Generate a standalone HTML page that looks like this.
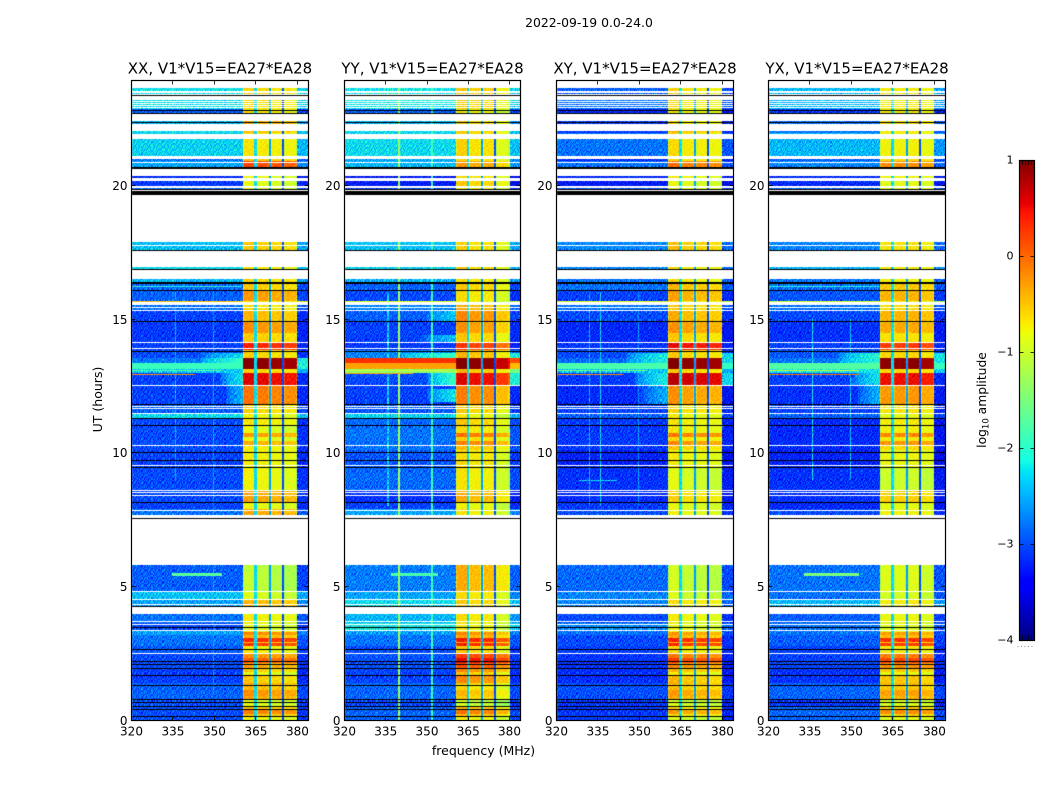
<!DOCTYPE html>
<html lang="en">
<head>
<meta charset="utf-8">
<title>2022-09-19 0.0-24.0 amplitude spectrogram</title>
<style>
  html, body { margin: 0; padding: 0; background: #fff; }
  #figure { position: relative; width: 1050px; height: 800px; overflow: hidden; background: #fff; }
  #figure canvas { position: absolute; display: block; }
  #overlay { position: absolute; left: 0; top: 0; }
  text { font-family: "DejaVu Sans", "Liberation Sans", sans-serif; fill: #000; }
</style>
</head>
<body>
<div id="figure">
  <svg id="overlay" width="1050" height="800" viewBox="0 0 1050 800">
    <text x="589" y="27" font-size="12.4" text-anchor="middle">2022-09-19 0.0-24.0</text>
    <text x="483.5" y="755" font-size="12.5" text-anchor="middle">frequency (MHz)</text>
    <text transform="translate(102,399.5) rotate(-90)" font-size="12.5" text-anchor="middle">UT (hours)</text>
    <text transform="translate(986,400) rotate(-90)" font-size="12.3" text-anchor="middle">log<tspan font-size="8.5" dy="2.5">10</tspan><tspan dy="-2.5"> amplitude</tspan></text>
  </svg>
</div>
<script>
// ---- Chart data (UT hours, MHz, log10 amplitude) ----
const panelTitles = ["XX, V1*V15=EA27*EA28", "YY, V1*V15=EA27*EA28", "XY, V1*V15=EA27*EA28", "YX, V1*V15=EA27*EA28"];
const panelIds = ["xx", "yy", "xy", "yx"];
const freqTicks = [320, 335, 350, 365, 380];
const timeTicks = [0, 5, 10, 15, 20];
const colorTicks = [1, 0, -1, -2, -3, -4];
const colorTickLabels = ["1", "0", "\u22121", "\u22122", "\u22123", "\u22124"];

// Start hour of each observing segment
const segmentStarts = [0,.52,.82,1.39,1.94,2.51,2.79,3.18,3.34,3.67,4.25,4.57,4.85,7.58,7.88,8.15,8.62,9.44,10.09,11.03,11.29,11.46,11.81,12.52,13.01,13.16,13.35,13.54,13.83,14.14,14.95,15.32,15.66,15.70,16.10,16.30,16.85,17.56,19.84,19.97,20.27,20.68,20.88,21.12,21.94,22.31,22.70,22.83,23.37];

// Level outside the 360-380 MHz band, per segment
const xxOff = [-3.0,-3.0,-2.9,-3.08,-3.02,-2.95,-2.82,-2.58,-3.02,-2.82,-2.58,-2.43,-2.92,-2.82,-3.07,-3.02,-3.02,-3.07,-3.02,-3.02,-2.28,-2.92,-3.07,-3.07,-2.4,-1.9,-2.8,-3.02,-3.07,-3.12,-3.07,-2.82,-.5,-2.92,-2.87,-2.48,-2.28,-2.43,-2.82,-3.12,-3.22,-2.58,-2.82,-2.33,-2.28,-2.48,-2.92,-2.23,-2.23];
const yyOff = [-2.9,-3.05,-2.88,-3.05,-2.98,-3.0,-2.82,-2.58,-2.18,-2.48,-2.28,-2.58,-2.77,-2.58,-3.07,-3.17,-2.87,-2.97,-2.82,-2.87,-2.33,-2.97,-3.07,-3.02,-1.4,-.3,.3,-2.72,-3.12,-3.07,-2.92,-2.72,-.9,-3.02,-2.92,-2.48,-2.33,-2.43,-3.12,-3.32,-3.32,-2.48,-2.58,-2.28,-2.28,-2.48,-2.92,-2.18,-2.18];
const xyOff = [-3.12,-3.15,-3.0,-3.18,-3.15,-3.08,-3.02,-2.82,-2.72,-3.02,-2.72,-2.72,-2.87,-3.02,-3.12,-3.22,-3.17,-3.27,-3.12,-3.12,-2.92,-3.07,-3.22,-3.12,-2.4,-1.8,-2.85,-3.02,-3.12,-3.22,-3.02,-2.82,-.9,-3.07,-2.82,-2.82,-2.72,-2.72,-3.02,-3.32,-3.22,-2.82,-3.22,-2.82,-3.12,-3.12,-3.22,-2.82,-2.92];
const yxOff = [-2.88,-3.12,-2.9,-3.15,-3.05,-3.08,-2.92,-2.82,-2.82,-2.92,-2.48,-2.82,-2.82,-3.02,-3.22,-3.17,-3.17,-3.27,-3.22,-3.22,-2.92,-3.07,-3.17,-3.07,-2.2,-1.75,-2.8,-2.97,-3.07,-3.17,-3.02,-2.82,-1,-2.97,-2.82,-2.82,-2.48,-2.72,-2.92,-3.22,-3.22,-2.72,-2.92,-2.48,-2.82,-2.82,-3.12,-2.48,-2.48];

// Level inside the 360-380 MHz band, per segment
const xxIn = [-.5,-.9,-.35,-.55,-.15,-.75,-.05,-.7,-.9,-.75,-.45,-.95,-1.1,-.35,-.85,-.35,-.8,-.75,-.75,-.7,-.8,-.6,-.1,.55,-.6,.95,.95,-.6,.35,-.35,-.45,-.65,-.7,-.3,-.55,-.6,-.7,-.55,-.9,-.9,-.85,.15,-.5,-.7,-.5,-.4,-.7,-.65,-.6];
const yyIn = [-.5,-1.05,-.6,-.25,.25,-.6,0,-.75,-.8,-.7,-.6,-.7,-.45,-.75,-.85,-.45,-.75,-.7,-.55,-.6,-.8,-.6,-.2,.5,-.5,.95,.95,-.5,.2,-.4,-.25,-.45,-.9,-.7,-.6,-.7,-.6,-.65,-.8,-.6,-.7,-.35,-.7,-.65,-.6,-.6,-.8,-.6,-.55];
const xyIn = [-.7,-1,-.45,-.5,-.05,-.7,-.05,-.8,-.9,-.8,-.7,-1,-1.05,-.85,-.9,-.65,-.95,-.8,-.6,-.75,-.8,-.65,-.3,.65,-.6,.95,.95,-.6,.45,-.4,-.45,-.6,-.8,-.4,-.5,-.7,-.7,-.55,-.9,-.9,-.8,-.1,-.7,-.7,-.5,-.7,-.8,-.7,-.65];
const yxIn = [-.55,-.9,-.4,-.5,0,-.7,-.05,-.8,-.9,-.8,-.7,-.95,-.9,-.75,-.85,-.55,-1.0,-.8,-.6,-.7,-.85,-.65,-.25,.5,-.6,.95,.95,-.6,.25,-.45,-.4,-.6,-.8,-.4,-.5,-.75,-.7,-.65,-.85,-.85,-.8,-.2,-.6,-.75,-.7,-.6,-.7,-.7,-.7];

// In-band brightness changes shared by all polarisations: [start h, end h, delta]
const bandStripes = [[0,.17,-.3],[.24,.4,.35],[.88,1.14,.1],[1.14,1.36,-.1],[1.66,1.81,-.3],[1.96,2.15,-.2],[2.15,2.34,.2],[2.34,2.52,-.1],[2.78,2.88,.3],[2.88,2.97,-.45],[2.97,3.08,.35],[3.08,3.2,-.4],[3.2,3.32,.5],[10.3,10.45,.35],[10.45,10.6,-.1],[10.6,10.75,.45],[10.75,11.01,-.15],[14.15,14.49,-.2],[14.49,14.86,.1]];

// Level offset of each of the four sub-bands, per polarisation
const xxSub = [.05, 0, -.05, -.1];
const yySub = [.1, 0, 0, -.25];
const xySub = [.1, 0, -.05, -.1];
const yxSub = [0, 0, 0, -.1];
// Sub-band limits (MHz) and the levels of the three notches between them
const subbandEdges = [360.4, 364.6, 365.4, 369.7, 370.3, 374.6, 375.4, 380];
const notchLevels = [-2.3, -2.6, -3.0];

// Interference columns: [MHz, level, start h, end h]
const xxColumns = [[335.8,-2.5,9,16],[349.8,-2.6,1,16]];
const yyColumns = [[339.8,-1.3,0,24],[351.8,-1.9,0,24],[335.8,-2.4,8,16]];
const xyColumns = [[331.8,-2.5,8,16],[335.8,-2.3,8,16],[349.8,-2.6,8,16]];
const yxColumns = [[335.8,-2.2,9,15],[349.8,-2.4,9,15]];

// Broad emission next to the band: [start h, end h, MHz where it fades out, level at band edge]
const xxShoulders = [[13.16,13.54,345,-1.9],[13.54,13.76,345,-2.3],[12.55,13.01,352,-2.2],[11.81,12.52,354,-2.5]];
const yyShoulders = [[13.55,13.76,340,-1.9],[12.52,13.0,350,-1.9],[11.9,12.4,350,-2.2],[14.14,14.4,348,-2.4],[14.9,15.3,350,-2.4]];
const xyShoulders = [[13.35,13.76,345,-2.1],[12.55,13.01,348,-2.1],[11.81,12.52,350,-2.5]];
const yxShoulders = [[13.35,13.76,345,-2.0],[12.55,13.01,350,-2.2],[11.81,12.52,352,-2.5]];

// Narrow lines: [hour, start MHz, end MHz, level]
const xxLines = [[12.93,320,343,-.2],[13.08,320,353,-1.7],[16.24,320,360,-2.0],[5.45,335,353,-1.7]];
const yyLines = [[12.96,320,345,-.3],[13.08,320,358,-1.0],[5.45,337,354,-1.8]];
const xyLines = [[12.93,320,344,-.2],[13.08,320,353,-1.5],[8.97,328,342,-2.3]];
const yxLines = [[12.93,320,353,-.1],[13.08,320,353,-1.0],[16.24,320,360,-2.0],[5.45,333,353,-1.5]];

// Hours with no data (white) and flagged lines (black)
const blankSpans = [[23.63,23.93],[23.52,23.55],[23.46,23.49],[23.40,23.43],[23.18,23.33],[23.12,23.15],[23.05,23.08],[22.99,23.02],[22.90,22.93],[22.42,22.68],[22.02,22.31],[21.75,21.94],[20.98,21.12],[20.85,20.88],[20.34,20.62],[20.18,20.27],[19.92,19.97],[19.79,19.82],[17.90,19.63],[17.73,17.77],[16.95,17.56],[16.51,16.83],[15.52,15.66],[15.42,15.45],[15.31,15.34],[14.11,14.14],[13.87,13.91],[12.52,12.55],[11.75,11.77],[11.65,11.68],[11.46,11.49],[10.26,10.29],[9.53,9.56],[8.59,8.63],[8.51,8.54],[8.39,8.43],[7.83,7.88],[7.58,7.67],[5.83,7.54],[4.83,4.85],[4.54,4.56],[4.32,4.35],[3.98,4.24],[3.68,3.73],[3.57,3.61],[3.34,3.37],[2.48,2.51]];
const flaggedSpans = [[23.33,23.37],[22.79,22.83],[22.68,22.72],[22.32,22.36],[20.62,20.68],[19.82,19.87],[19.64,19.80],[17.56,17.59],[16.83,16.86],[16.31,16.41],[16.05,16.10],[14.92,14.95],[13.76,13.83],[11.81,11.84],[11.27,11.32],[11.0,11.03],[10.0,10.02],[9.72,9.75],[9.44,9.46],[8.12,8.15],[7.54,7.58],[4.25,4.28],[3.44,3.49],[2.66,2.69],[2.22,2.24],[2.09,2.12],[1.94,1.97],[1.66,1.71],[1.31,1.34],[.79,.81],[.68,.70],[.50,.54],[.40,.42],[.13,.15]];

// Hand-typed grain tile, a stand-in for the per-cell noise that cannot be read channel by channel
const grainTile = [
  [ .6,-.4, .1,-.9, .3, .8,-.2,-.7, .5, .0,-.5, .9,-.3],
  [-.8, .2, .7,-.1,-.6, .4,-1., .6,-.3, .8,-.2,-.6, .3],
  [ .1,-.7, .4, .9,-.4,-.1, .5, .2,-.8, .3, .7,-.4,-.9],
  [ .9,-.2,-.6, .3, .7,-.8, .1,-.5, .6,-.1,-.7, .4, .2],
  [-.3, .5,-.9, .1,-.2, .6,-.4, .9,-.6, .2, .8,-.8, .4],
  [ .4,-.6, .8,-.5, .9,-.3, .2,-.7, .1,-.9, .5, .0,-.4],
  [-.7, .3, .0, .6,-.8, .5,-.6, .4, .8,-.4,-.1, .7,-.2],
  [ .2, .8,-.5,-.3, .4,-.9, .7,-.1,-.4, .6,-.8, .3, .5],
  [-.5,-.1, .6, .8,-.7, .2,-.3, .5, .9,-.6, .4,-.7, .1],
  [ .7,-.9, .3,-.4, .1, .7,-.8, .0,-.2, .5,-.3, .8,-.6],
  [-.2, .4,-.8, .5,-.6,-.2, .9,-.5, .3,-.8, .6,-.1, .7]
];

// ---- Layout ----
const offByPanel = [xxOff, yyOff, xyOff, yxOff];
const inByPanel = [xxIn, yyIn, xyIn, yxIn];
const subByPanel = [xxSub, yySub, xySub, yxSub];
const columnsByPanel = [xxColumns, yyColumns, xyColumns, yxColumns];
const shouldersByPanel = [xxShoulders, yyShoulders, xyShoulders, yxShoulders];
const linesByPanel = [xxLines, yyLines, xyLines, yxLines];

const panelLeft = [131.5, 344.5, 556.5, 768.5];
const panelRight = [308.5, 520.5, 733.5, 945.5];
const plotTop = 80.5, plotBottom = 720.5;
const freqMin = 320, freqMax = 384, timeMin = 0, timeMax = 23.925;
const channelWidth = 0.4, rowHeight = 0.05;
const svgNS = "http://www.w3.org/2000/svg";
const overlay = document.getElementById("overlay");
const figure = document.getElementById("figure");

function xScale(p, f) { return panelLeft[p] + (f - freqMin) * (panelRight[p] - panelLeft[p]) / (freqMax - freqMin); }
function yScale(t) { return plotBottom - (t - timeMin) * (plotBottom - plotTop) / (timeMax - timeMin); }
function cScale(v) { return 640 - (v + 4) * 96; }

function ramp(stops, x) {
  for (let i = 1; i < stops.length; i++) {
    if (x <= stops[i][0]) {
      const a = stops[i - 1], b = stops[i];
      return a[1] + (b[1] - a[1]) * (x - a[0]) / (b[0] - a[0]);
    }
  }
  return stops[stops.length - 1][1];
}
const jetR = [[0,0],[.35,0],[.66,1],[.89,1],[1,.5]];
const jetG = [[0,0],[.125,0],[.375,1],[.64,1],[.91,0],[1,0]];
const jetB = [[0,.5],[.11,1],[.34,1],[.65,0],[1,0]];
function jetColor(v) {
  const x = Math.max(0, Math.min(1, (v + 4) / 5));
  return "rgb(" + Math.round(255 * ramp(jetR, x)) + "," + Math.round(255 * ramp(jetG, x)) + "," + Math.round(255 * ramp(jetB, x)) + ")";
}

function segmentIndex(t) {
  let s = 0;
  while (s + 1 < segmentStarts.length && segmentStarts[s + 1] <= t) s++;
  return s;
}

function cellLevel(p, t, f, ci, ri) {
  const s = segmentIndex(t);
  const grain = grainTile[(ri + p * 3) % 11][(ci + p * 5) % 13];
  if (f >= subbandEdges[0] && f < subbandEdges[7]) {
    for (let k = 0; k < 4; k++) {
      const lo = subbandEdges[k * 2], hi = subbandEdges[k * 2 + 1];
      if (f >= lo && f < hi) {
        const edge = (f - lo < channelWidth || hi - f < channelWidth) ? -.2 : 0;
        let v = inByPanel[p][s] + subByPanel[p][k] + edge;
        for (const st of bandStripes) {
          if (t >= st[0] && t < st[1]) v += st[2];
        }
        return v + grain * (v > .8 ? .03 : .2);
      }
    }
    for (let k = 0; k < 3; k++) {
      if (f >= subbandEdges[k * 2 + 1] && f < subbandEdges[k * 2 + 2]) return notchLevels[k] + grain * .15;
    }
  }
  const base = offByPanel[p][s];
  let v = base;
  if (f >= subbandEdges[7]) v -= .15;
  for (const sh of shouldersByPanel[p]) {
    if (t >= sh[0] && t < sh[1]) {
      if (f >= subbandEdges[7]) {
        if (sh[3] >= -2.15 && sh[3] - .2 > v) v = sh[3] - .2;
      } else if (f >= sh[2]) {
        const reach = (f - sh[2]) / (subbandEdges[0] - sh[2]);
        const faded = base + (sh[3] - base) * Math.sqrt(reach);
        if (faded > v) v = faded;
      }
    }
  }
  for (const col of columnsByPanel[p]) {
    if (t >= col[2] && t < col[3] && Math.abs(f - col[0]) < channelWidth / 2 && col[1] > v) v = col[1];
  }
  for (const ln of linesByPanel[p]) {
    if (Math.abs(t - ln[0]) < rowHeight * .6 && f >= ln[1] && f < ln[2] && ln[3] > v) v = ln[3];
  }
  return v > -2 ? v + grain * .08 : v + grain * .45;
}

function fillSpan(ctx, p, span, color) {
  const yA = Math.round(yScale(span[1]));
  let yB = Math.round(yScale(span[0]));
  if (yB <= yA) yB = yA + 1;
  ctx.fillStyle = color;
  ctx.fillRect(Math.round(panelLeft[p]), yA, Math.round(panelRight[p]) - Math.round(panelLeft[p]), yB - yA);
}

function drawHeatmap(p) {
  const cv = document.createElement("canvas");
  
  
  const left = Math.floor(panelLeft[p]), top = Math.floor(plotTop);
  const w = Math.ceil(panelRight[p]) - left, h = Math.ceil(plotBottom) - top;
  cv.width = w; cv.height = h;
  cv.style.left = left + "px"; cv.style.top = top + "px";
  figure.insertBefore(cv, overlay);
  const ctx = cv.getContext("2d");
  ctx.translate(-left, -top);
  const nCols = Math.round((freqMax - freqMin) / channelWidth);
  const nRows = Math.ceil((timeMax - timeMin) / rowHeight);
  for (let r = 0; r < nRows; r++) {
    const t = timeMin + (r + .5) * rowHeight;
    const yA = Math.round(yScale(Math.min(timeMax, timeMin + (r + 1) * rowHeight)));
    const yB = Math.round(yScale(timeMin + r * rowHeight));
    for (let c = 0; c < nCols; c++) {
      const f = freqMin + (c + .5) * channelWidth;
      const xA = Math.round(xScale(p, freqMin + c * channelWidth));
      const xB = Math.round(xScale(p, freqMin + (c + 1) * channelWidth));
      ctx.fillStyle = jetColor(cellLevel(p, t, f, c, r));
      ctx.fillRect(xA, yA, xB - xA, yB - yA);
    }
  }
  blankSpans.forEach(function (sp) { fillSpan(ctx, p, sp, "#fff"); });
  flaggedSpans.forEach(function (sp) { fillSpan(ctx, p, sp, "#000"); });
}

function svgEl(tag, attrs) {
  const el = document.createElementNS(svgNS, tag);
  for (const k in attrs) el.setAttribute(k, attrs[k]);
  overlay.appendChild(el);
  return el;
}

function drawAxes(p) {
  const L = panelLeft[p], R = panelRight[p];
  freqTicks.forEach(function (f) {
    const x = Math.round(xScale(p, f) - .5) + .5;
    const bottomTick = svgEl("line", { x1: x, x2: x, y1: plotBottom, y2: plotBottom - 4, stroke: "#000", "stroke-width": .8 });
    
    
    const topTick = svgEl("line", { x1: x, x2: x, y1: plotTop, y2: plotTop + 4, stroke: "#000", "stroke-width": .8 });
    
    
    const lab = svgEl("text", { x: xScale(p, f), y: 735.5, "font-size": 12, "text-anchor": "middle" });
    
    
    lab.textContent = String(f);
  });
  timeTicks.forEach(function (t) {
    const y = Math.round(yScale(t) - .5) + .5;
    const leftTick = svgEl("line", { x1: L, x2: L + 4, y1: y, y2: y, stroke: "#000", "stroke-width": .8 });
    
    
    const rightTick = svgEl("line", { x1: R, x2: R - 4, y1: y, y2: y, stroke: "#000", "stroke-width": .8 });
    
    
    const lab = svgEl("text", { x: L - 4, y: y + 4.5, "font-size": 12, "text-anchor": "end" });
    
    
    lab.textContent = String(t);
  });
  const frame = svgEl("rect", { x: L, y: plotTop, width: R - L, height: plotBottom - plotTop, fill: "none", stroke: "#000", "stroke-width": 1.2 });
  
  
  const title = svgEl("text", { x: (L + R) / 2, y: 73.5, "font-size": 15, "text-anchor": "middle" });
  
  
  title.textContent = panelTitles[p];
}

function drawColorbar() {
  const cv = document.createElement("canvas");
  
  
  cv.width = 16; cv.height = 480;
  cv.style.left = "1019px"; cv.style.top = "160px";
  figure.insertBefore(cv, overlay);
  const ctx = cv.getContext("2d");
  for (let i = 0; i < 480; i++) {
    ctx.fillStyle = jetColor(1 - (i + .5) / 96);
    ctx.fillRect(0, i, 16, 1);
  }
  colorTicks.forEach(function (v, i) {
    const y = Math.round(cScale(v)) + .5;
    const a = svgEl("line", { x1: 1019.5, x2: 1023.5, y1: y, y2: y, stroke: "#000", "stroke-width": .8 });
    
    
    const b = svgEl("line", { x1: 1034.5, x2: 1030.5, y1: y, y2: y, stroke: "#000", "stroke-width": .8 });
    
    
    const lab = svgEl("text", { x: 1013.5, y: y + 3, "font-size": 11, "text-anchor": "end" });
    
    
    lab.textContent = colorTickLabels[i];
  });
  [1022.5, 1025.5, 1028.5, 1031.5].forEach(function (x) {
    const t = svgEl("line", { x1: x, x2: x, y1: 160.5, y2: 165, stroke: "#000", "stroke-width": .8 });
    
    
    const m = svgEl("line", { x1: x, x2: x, y1: 640.5, y2: 635, stroke: "#000", "stroke-width": .8 });
    
    
  });
  const frame = svgEl("rect", { x: 1019.5, y: 160.5, width: 15, height: 480, fill: "none", stroke: "#000", "stroke-width": 1.2 });
  
  
  const dots = svgEl("line", { x1: 1017.5, x2: 1035, y1: 646.5, y2: 646.5, stroke: "#888", "stroke-width": 1, "stroke-dasharray": "1 2.5" });
  
  
}

panelIds.forEach(function (id, p) { drawHeatmap(p); drawAxes(p); });
drawColorbar();
</script>
</body>
</html>
